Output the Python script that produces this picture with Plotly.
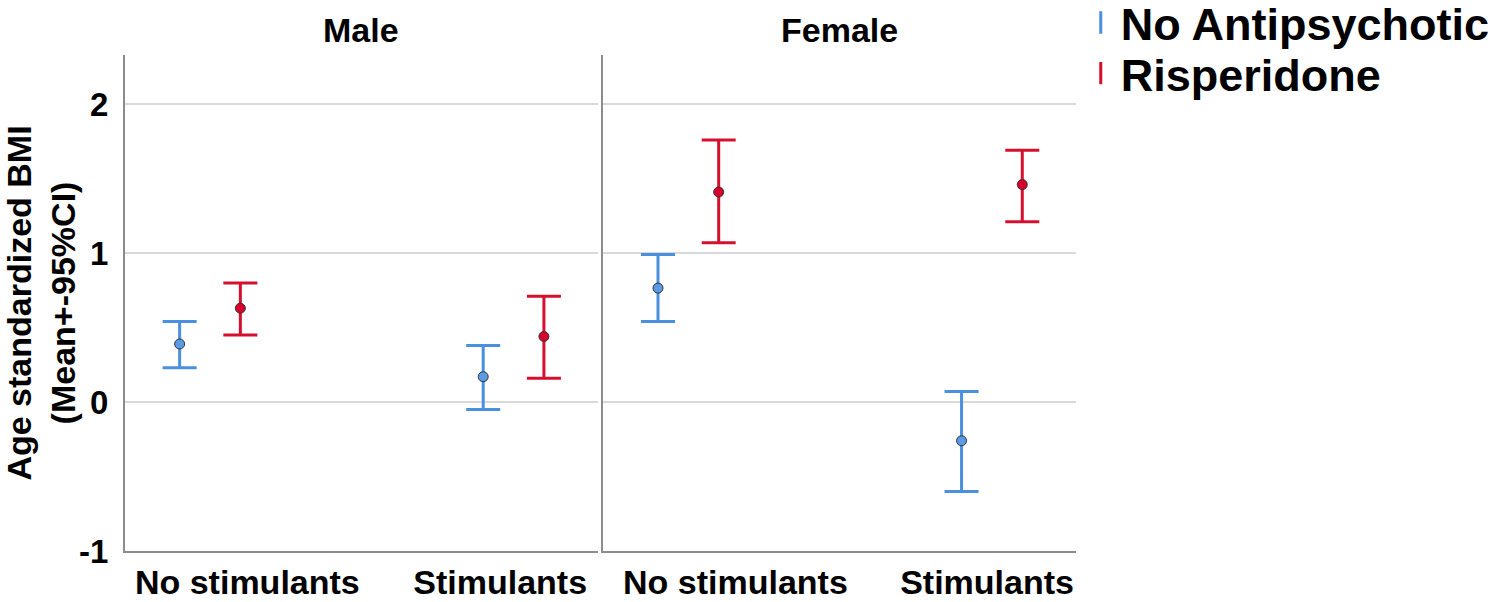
import plotly.graph_objects as go
from plotly.subplots import make_subplots

# ---- data ----
panels = ["Male", "Female"]
categories = ["No stimulants", "Stimulants"]
groups = ["No Antipsychotic", "Risperidone"]

# means / CI per panel -> group -> [No stimulants, Stimulants]
male_none_mean = [0.39, 0.17]
male_none_low = [0.23, -0.05]
male_none_high = [0.54, 0.38]
male_risp_mean = [0.63, 0.44]
male_risp_low = [0.45, 0.16]
male_risp_high = [0.80, 0.71]

female_none_mean = [0.765, -0.26]
female_none_low = [0.54, -0.60]
female_none_high = [0.99, 0.07]
female_risp_mean = [1.41, 1.46]
female_risp_low = [1.07, 1.21]
female_risp_high = [1.76, 1.69]

y_ticks = [-1, 0, 1, 2]
y_tick_labels = ["-1", "0", "1", "2"]

data = {
    "Male": {
        "No Antipsychotic": (male_none_mean, male_none_low, male_none_high),
        "Risperidone": (male_risp_mean, male_risp_low, male_risp_high),
    },
    "Female": {
        "No Antipsychotic": (female_none_mean, female_none_low, female_none_high),
        "Risperidone": (female_risp_mean, female_risp_low, female_risp_high),
    },
}

# ---- style ----
bar_colors = {"No Antipsychotic": "#4a8fe0", "Risperidone": "#d5102f"}
fill_colors = {"No Antipsychotic": "#5b9be6", "Risperidone": "#d5002b"}
offsets = {"No Antipsychotic": -0.1, "Risperidone": 0.1}
# horizontal nudge of the category labels (label placement as in the original)
label_shift = {"Male": [0.123, -0.044], "Female": [0.155, -0.016]}
legend_names = {"No Antipsychotic": "legend", "Risperidone": "legend2"}
FONT = "Liberation Sans, Arial, sans-serif"
AXIS = "#8c8c8c"
GRID = "#d9d9d9"

fig = make_subplots(rows=1, cols=2, shared_yaxes=True,
                    subplot_titles=panels, horizontal_spacing=0.006)

for ci, panel in enumerate(panels, start=1):
    for g in groups:
        mean, low, high = data[panel][g]
        xs = [i + offsets[g] for i in range(len(categories))]
        fig.add_trace(go.Scatter(
            x=xs, y=mean, mode="markers", name=g, showlegend=False,
            marker=dict(size=10, color=fill_colors[g],
                        line=dict(color="#333333", width=1)),
            error_y=dict(type="data", symmetric=False,
                         array=[h - m for h, m in zip(high, mean)],
                         arrayminus=[m - l for m, l in zip(mean, low)],
                         color=bar_colors[g], thickness=3, width=17),
        ), row=1, col=ci)

# legend-only entries
for g in groups:
    fig.add_trace(go.Scatter(
        x=[None], y=[None], mode="markers", name=g, showlegend=True,
        legend=legend_names[g],
        marker=dict(symbol="line-ns-open", size=24, color=bar_colors[g],
                    line=dict(color=bar_colors[g], width=3)),
    ), row=1, col=1)

for ci, panel in enumerate(panels, start=1):
    fig.update_xaxes(row=1, col=ci, range=[-0.28, 1.277],
                     tickvals=[i + s for i, s in zip(range(len(categories)), label_shift[panel])],
                     ticktext=categories,
                     showline=True, linecolor=AXIS, linewidth=2,
                     showgrid=False, zeroline=False, ticks="", automargin=False,
                     tickfont=dict(family=FONT, size=34, color="black", weight="bold"))
    fig.update_yaxes(row=1, col=ci, range=[-1, 2.33],
                     tickvals=y_ticks, ticktext=y_tick_labels,
                     showline=True, linecolor=AXIS, linewidth=2,
                     showgrid=True, gridcolor=GRID, gridwidth=1.5,
                     zeroline=False, ticks="", automargin=False,
                     ticklabelstandoff=8,
                     tickfont=dict(family=FONT, size=33, color="black", weight="bold"))

fig.update_yaxes(row=1, col=1,
                 title=dict(text="Age standardized BMI<br>(Mean+-95%CI)",
                            font=dict(family=FONT, size=34, color="black", weight="bold"),
                            standoff=14))

for ann in fig.layout.annotations:
    ann.font = dict(family=FONT, size=34, color="black", weight="bold")
    ann.yshift = 4

legend_font = dict(family=FONT, size=45, color="black", weight="bold")
fig.update_layout(
    width=1500, height=602,
    margin=dict(l=125, r=424, t=55, b=51, autoexpand=False),
    plot_bgcolor="white", paper_bgcolor="white",
    legend=dict(x=1.005, y=1.065, xanchor="left", yanchor="middle",
                font=legend_font, itemwidth=30, bgcolor="rgba(0,0,0,0)"),
    legend2=dict(x=1.005, y=0.963, xanchor="left", yanchor="middle",
                 font=legend_font, itemwidth=30, bgcolor="rgba(0,0,0,0)"),
)

fig.write_html("out.html", config={"displayModeBar": False},
               post_script="document.body.style.margin='0';")
